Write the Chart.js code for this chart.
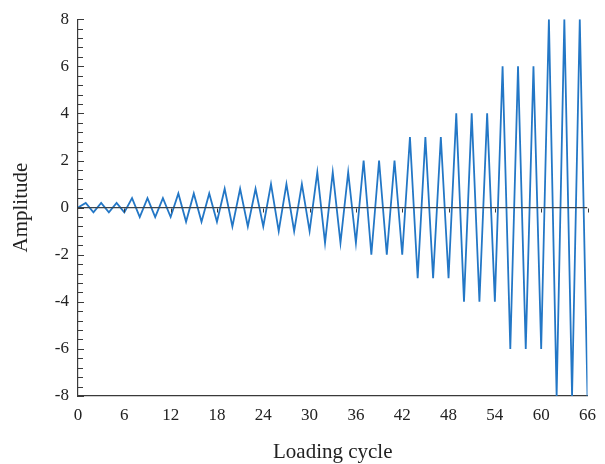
<!DOCTYPE html>
<html>
<head>
<meta charset="utf-8">
<script src="https://cdn.jsdelivr.net/npm/chart.js@4.4.1/dist/chart.umd.min.js"></script>
<style>
html,body{margin:0;padding:0;background:#fff;}
#wrap{width:605px;height:464px;position:relative;}
</style>
</head>
<body>
<div id="wrap"><canvas id="c" width="605" height="464"></canvas></div>
<script>
// ---- data ----
const loadingCycle = [
  0,
  1, 2, 3, 4, 5, 6,
  7, 8, 9, 10, 11, 12,
  13, 14, 15, 16, 17, 18,
  19, 20, 21, 22, 23, 24,
  25, 26, 27, 28, 29, 30,
  31, 32, 33, 34, 35, 36,
  37, 38, 39, 40, 41, 42,
  43, 44, 45, 46, 47, 48,
  49, 50, 51, 52, 53, 54,
  55, 56, 57, 58, 59, 60,
  61, 62, 63, 64, 65, 66
];
const amplitude = [
  0,
  0.2, -0.2, 0.2, -0.2, 0.2, -0.2,
  0.4, -0.4, 0.4, -0.4, 0.4, -0.4,
  0.6, -0.6, 0.6, -0.6, 0.6, -0.6,
  0.8, -0.8, 0.8, -0.8, 0.8, -0.8,
  1, -1, 1, -1, 1, -1,
  1.5, -1.5, 1.5, -1.5, 1.5, -1.5,
  2, -2, 2, -2, 2, -2,
  3, -3, 3, -3, 3, -3,
  4, -4, 4, -4, 4, -4,
  6, -6, 6, -6, 6, -6,
  8, -8, 8, -8, 8, -8
];
const xTickValues = [0, 6, 12, 18, 24, 30, 36, 42, 48, 54, 60, 66];
const yTickValues = [-8, -6, -4, -2, 0, 2, 4, 6, 8];
const zeroLineX = [0, 66];

const serif = '"Liberation Serif", "DejaVu Serif", serif';

const axisTicksPlugin = {
  id: 'axisTicks',
  afterDraw(chart) {
    const {ctx, chartArea: a, scales: {x, y}} = chart;
    ctx.save();
    ctx.strokeStyle = '#3a3a3a';
    ctx.lineWidth = 1;
    ctx.beginPath();
    // inward minor/major ticks on the y axis
    for (let i = 0; i <= 40; i++) {
      const v = y.min + i * 0.4;
      const py = Math.round(y.getPixelForValue(v)) + 0.5;
      const len = (i % 5 === 0) ? 6 : 5;
      ctx.moveTo(a.left, py);
      ctx.lineTo(a.left + len, py);
    }
    // small ticks hanging from the zero line
    const py0 = Math.round(y.getPixelForValue(0)) + 0.5;
    for (const v of xTickValues) {
      if (v === 0) continue;
      const px = Math.round(x.getPixelForValue(v)) + 0.5;
      ctx.moveTo(px, py0);
      ctx.lineTo(px, py0 + 4);
    }
    ctx.stroke();
    ctx.restore();
  }
};

new Chart(document.getElementById('c'), {
  type: 'line',
  data: {
    datasets: [
      {
        label: 'zero',
        data: zeroLineX.map(v => ({x: v, y: 0})),
        borderColor: '#3b444c',
        borderWidth: 1.3,
        pointRadius: 0,
        tension: 0
      },
      {
        label: 'Amplitude',
        data: loadingCycle.map((c, i) => ({x: c, y: amplitude[i]})),
        borderColor: '#2377c6',
        borderWidth: 1.8,
        pointRadius: 0,
        tension: 0
      }
    ]
  },
  options: {
    responsive: false,
    animation: false,
    events: [],
    layout: {padding: {top: 18, right: 12, bottom: 0, left: 0}},
    plugins: {legend: {display: false}, tooltip: {enabled: false}},
    scales: {
      x: {
        type: 'linear',
        min: 0,
        max: 66,
        afterBuildTicks: s => { s.ticks = xTickValues.map(v => ({value: v})); },
        afterFit: s => { s.height = 68; },
        grid: {display: false, drawTicks: false},
        border: {display: true, color: '#3a3a3a', width: 1.2},
        ticks: {
          padding: 9,
          color: '#222',
          maxRotation: 0,
          autoSkip: false,
          font: {family: serif, size: 17}
        },
        title: {
          display: true,
          text: 'Loading cycle',
          color: '#222',
          font: {family: serif, size: 21},
          padding: {top: 0, bottom: -1}
        }
      },
      y: {
        type: 'linear',
        min: -8,
        max: 8,
        afterBuildTicks: s => { s.ticks = yTickValues.map(v => ({value: v})); },
        afterFit: s => { s.width = 78; },
        grid: {display: false, drawTicks: false},
        border: {display: true, color: '#3a3a3a', width: 1.2},
        ticks: {
          padding: 9,
          color: '#222',
          autoSkip: false,
          font: {family: serif, size: 17}
        },
        title: {
          display: true,
          text: 'Amplitude',
          color: '#222',
          font: {family: serif, size: 21},
          padding: {top: 9, bottom: 0}
        }
      }
    }
  },
  plugins: [axisTicksPlugin]
});
</script>
</body>
</html>
